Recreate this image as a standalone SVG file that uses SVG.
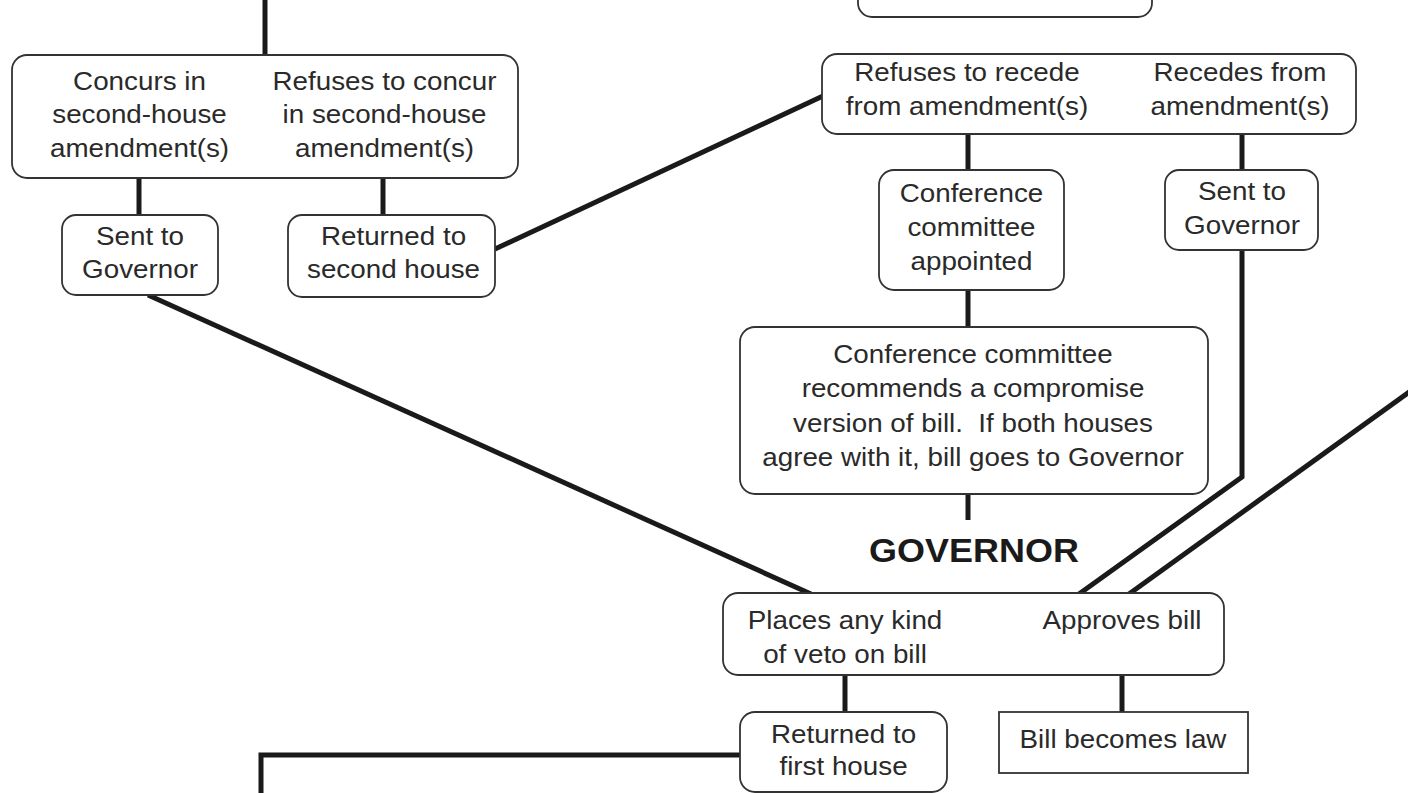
<svg xmlns="http://www.w3.org/2000/svg" width="1408" height="793" viewBox="0 0 1408 793">
<style>
.box{fill:#fff;stroke:#333;stroke-width:1.8}
.con{fill:none;stroke:#1a1a1a;stroke-width:5;stroke-linejoin:miter}
.t{font-family:"Liberation Sans",Arial,sans-serif;font-size:25.5px;fill:#2a2a2a;text-anchor:middle}
.h{font-family:"Liberation Sans",Arial,sans-serif;font-size:33px;font-weight:bold;fill:#1a1a1a;text-anchor:middle}
</style>
<rect width="1408" height="793" fill="#fff"/>
<g id="connectors">
<line class="con" x1="265" y1="0" x2="265" y2="55"/>
<line class="con" x1="139" y1="178" x2="139" y2="215"/>
<line class="con" x1="383" y1="178" x2="383" y2="215"/>
<line class="con" x1="495" y1="249" x2="823" y2="96"/>
<line class="con" x1="968" y1="134" x2="968" y2="170"/>
<line class="con" x1="1242" y1="134" x2="1242" y2="170"/>
<line class="con" x1="968" y1="290" x2="968" y2="327"/>
<line class="con" x1="968" y1="494" x2="968" y2="520"/>
<line class="con" x1="148" y1="295" x2="811" y2="594"/>
<polyline class="con" points="1242,250 1242,477 1079,594"/>
<line class="con" x1="1412" y1="390" x2="1129" y2="594"/>
<line class="con" x1="845" y1="675" x2="845" y2="712"/>
<line class="con" x1="1122" y1="675" x2="1122" y2="712"/>
<polyline class="con" points="740,755 261,755 261,800"/>
</g>
<g id="n-top-partial">
<rect class="box" x="858" y="-30" width="294" height="47" rx="14"/>
</g>
<g id="n-concur">
<rect class="box" x="12" y="55" width="506" height="123" rx="15"/>
<text class="t" transform="translate(139.5 90) scale(1.09 1)"><tspan x="0">Concurs in</tspan><tspan x="0" dy="33.5">second-house</tspan><tspan x="0" dy="33.5">amendment(s)</tspan></text>
<text class="t" transform="translate(384.5 90) scale(1.09 1)"><tspan x="0">Refuses to concur</tspan><tspan x="0" dy="33.5">in second-house</tspan><tspan x="0" dy="33.5">amendment(s)</tspan></text>
</g>
<g id="n-sent-left">
<rect class="box" x="62" y="215" width="156" height="80" rx="14"/>
<text class="t" transform="translate(140 245) scale(1.09 1)"><tspan x="0">Sent to</tspan><tspan x="0" dy="33.5">Governor</tspan></text>
</g>
<g id="n-returned-second">
<rect class="box" x="288" y="215" width="207" height="82" rx="14"/>
<text class="t" transform="translate(393.5 245) scale(1.09 1)"><tspan x="0">Returned to</tspan><tspan x="0" dy="33.5">second house</tspan></text>
</g>
<g id="n-recede">
<rect class="box" x="822" y="54" width="534" height="80" rx="15"/>
<text class="t" transform="translate(967 81) scale(1.09 1)"><tspan x="0">Refuses to recede</tspan><tspan x="0" dy="34">from amendment(s)</tspan></text>
<text class="t" transform="translate(1240 81) scale(1.09 1)"><tspan x="0">Recedes from</tspan><tspan x="0" dy="34">amendment(s)</tspan></text>
</g>
<g id="n-conf-appointed">
<rect class="box" x="879" y="170" width="185" height="120" rx="15"/>
<text class="t" transform="translate(971.5 202) scale(1.09 1)"><tspan x="0">Conference</tspan><tspan x="0" dy="34">committee</tspan><tspan x="0" dy="34">appointed</tspan></text>
</g>
<g id="n-sent-right">
<rect class="box" x="1165" y="170" width="153" height="80" rx="14"/>
<text class="t" transform="translate(1242 200) scale(1.09 1)"><tspan x="0">Sent to</tspan><tspan x="0" dy="34">Governor</tspan></text>
</g>
<g id="n-conf-recommends">
<rect class="box" x="740" y="327" width="468" height="167" rx="15"/>
<text class="t" transform="translate(973 363) scale(1.09 1)"><tspan x="0">Conference committee</tspan><tspan x="0" dy="34.5">recommends a compromise</tspan><tspan x="0" dy="34.5" xml:space="preserve">version of bill.  If both houses</tspan><tspan x="0" dy="34.5">agree with it, bill goes to Governor</tspan></text>
</g>
<g id="n-governor-label">
<text class="h" transform="translate(974 562) scale(1.09 1)">GOVERNOR</text>
</g>
<g id="n-governor">
<rect class="box" x="723" y="593" width="501" height="82" rx="15"/>
<text class="t" transform="translate(845 629) scale(1.09 1)"><tspan x="0">Places any kind</tspan><tspan x="0" dy="34">of veto on bill</tspan></text>
<text class="t" transform="translate(1122 629) scale(1.09 1)">Approves bill</text>
</g>
<g id="n-returned-first">
<rect class="box" x="740" y="712" width="207" height="80" rx="15"/>
<text class="t" transform="translate(843.5 743) scale(1.09 1)"><tspan x="0">Returned to</tspan><tspan x="0" dy="32">first house</tspan></text>
</g>
<g id="n-law">
<rect class="box" x="999" y="712" width="249" height="61"/>
<text class="t" transform="translate(1123 748) scale(1.09 1)">Bill becomes law</text>
</g>
</svg>
